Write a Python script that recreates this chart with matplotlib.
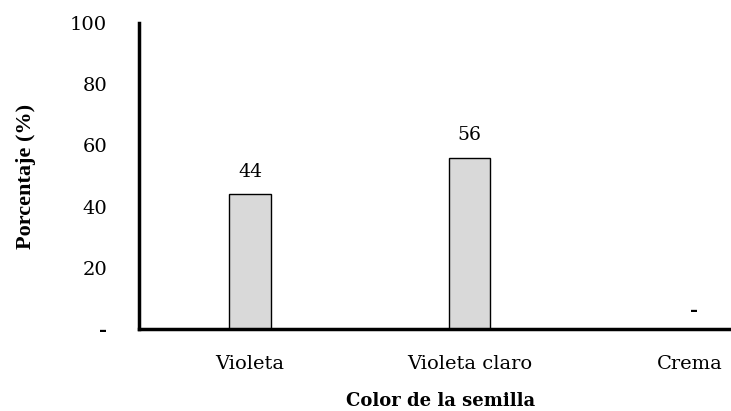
import matplotlib
matplotlib.use("Agg")
import matplotlib.pyplot as plt

categories = ["Violeta", "Violeta claro", "Crema"]
values = [44, 56, 0]
value_labels = ["44", "56", "-"]
ytick_vals = [0, 20, 40, 60, 80, 100]
ytick_labels = ["-", "20", "40", "60", "80", "100"]

plt.rcParams['font.family'] = ['DejaVu Serif']

fig = plt.figure(figsize=(7.31, 4.11), dpi=100)
ax = fig.add_axes([139/731, 1-329/411, 1-139/731, (329-23)/411])

x = list(range(len(categories)))
ax.bar(x, values, width=0.19, color="#d9d9d9", edgecolor="black", linewidth=1.0, zorder=2)

for xi, v, lab in zip(x, values, value_labels):
    if lab == "-":
        ax.text(xi + 0.02, v + 3, lab, ha="center", va="bottom", fontsize=14, fontweight="bold")
    else:
        ax.text(xi, v + 4.5, lab, ha="center", va="bottom", fontsize=13.5)

ax.set_xlim(-0.505, 2.19)
ax.set_ylim(0, 100)
ax.set_xticks(x)
ax.set_xticklabels(categories, fontsize=14)
ax.set_yticks(ytick_vals)
ax.set_yticklabels(ytick_labels, fontsize=14)
ax.get_yticklabels()[0].set_fontweight("bold")
ax.tick_params(axis="both", length=0)
ax.tick_params(axis="x", pad=19)
ax.tick_params(axis="y", pad=23)

for s in ["top", "right"]:
    ax.spines[s].set_visible(False)
ax.spines["left"].set_linewidth(2.5)
ax.spines["bottom"].set_linewidth(2.5)

fig.text(26/731, 1-176/411, "Porcentaje (%)", rotation=90, ha="center", va="center",
         fontsize=16, fontweight="bold", family=["Liberation Serif", "DejaVu Serif"])
fig.text(441/731, 1-401/411, "Color de la semilla", ha="center", va="center",
         fontsize=13, fontweight="bold")

fig.savefig("out.png", dpi=100)
